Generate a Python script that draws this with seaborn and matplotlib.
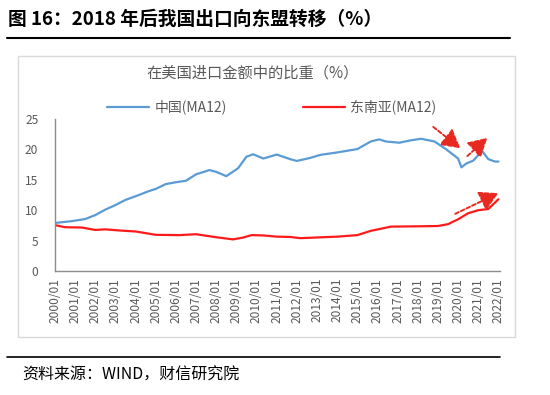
import pandas as pd
import matplotlib.pyplot as plt
import seaborn as sns
from matplotlib.patches import Rectangle
from matplotlib.lines import Line2D

sns.set_theme(style="white")
plt.rcParams['font.family'] = ['Noto Sans CJK SC', 'DejaVu Sans']

# Data (12-month moving average share of US imports, %)
china_dates = ["2000-01", "2000-11", "2001-07", "2002-01", "2002-07", "2003-01", "2003-07",
               "2004-01", "2004-09", "2005-01", "2005-07", "2006-01", "2006-07", "2007-01",
               "2007-09", "2008-01", "2008-07", "2009-02", "2009-07", "2009-11", "2010-05",
               "2011-01", "2011-09", "2012-01", "2012-09", "2013-03", "2014-01", "2015-01",
               "2015-09", "2016-02", "2016-06", "2017-02", "2017-09", "2018-03", "2018-11",
               "2019-06", "2020-01", "2020-03", "2020-06", "2020-10", "2021-02", "2021-03",
               "2021-07", "2021-11", "2022-01"]
china_values = [7.9, 8.2, 8.55, 9.2, 10.1, 10.85, 11.7,
                12.3, 13.15, 13.5, 14.3, 14.6, 14.85, 15.9,
                16.6, 16.3, 15.6, 16.9, 18.8, 19.2, 18.5,
                19.15, 18.4, 18.1, 18.6, 19.1, 19.5, 20.05,
                21.3, 21.65, 21.3, 21.1, 21.5, 21.75, 21.3,
                20.0, 18.5, 17.05, 17.7, 18.15, 19.35, 19.85,
                18.4, 18.0, 18.0]

asean_dates = ["2000-01", "2000-07", "2001-05", "2002-01", "2002-07", "2003-04", "2004-01",
               "2005-01", "2006-03", "2007-01", "2008-01", "2008-11", "2009-05", "2009-10",
               "2010-05", "2011-01", "2011-09", "2012-03", "2014-01", "2015-01", "2015-09",
               "2016-09", "2018-01", "2019-01", "2019-07", "2020-01", "2020-07", "2021-01",
               "2021-07", "2022-01"]
asean_values = [7.55, 7.2, 7.15, 6.75, 6.85, 6.65, 6.5,
                5.95, 5.9, 6.05, 5.55, 5.2, 5.5, 5.9,
                5.85, 5.65, 5.6, 5.4, 5.65, 5.9, 6.6,
                7.3, 7.35, 7.4, 7.7, 8.5, 9.5, 10.0,
                10.2, 11.8]

series_names = ["中国(MA12)", "东南亚(MA12)"]
series_colors = ["#5B9BD5", "#FF1A1A"]
year_labels = [f"{y}/01" for y in range(2000, 2023)]


def to_year(d):
    y, m = d.split("-")
    return int(y) + (int(m) - 1) / 12


df = pd.concat([
    pd.DataFrame({"t": [to_year(d) for d in china_dates], "v": china_values, "s": series_names[0]}),
    pd.DataFrame({"t": [to_year(d) for d in asean_dates], "v": asean_values, "s": series_names[1]}),
])

fig = plt.figure(figsize=(5.5, 3.95), dpi=100)
W, H = 550, 395

ax = fig.add_axes([55 / W, 1 - 271 / H, 445 / W, 152 / H])
sns.lineplot(data=df, x="t", y="v", hue="s", palette=dict(zip(series_names, series_colors)),
             linewidth=1.6, ax=ax, legend=False)

ax.set_xlim(2000, 2022.08)
ax.set_ylim(0, 25)
ax.set_yticks(range(0, 26, 5))
ax.set_xticks(range(2000, 2023))
ax.set_xticklabels(year_labels, rotation=90)
ax.set_xlabel("")
ax.set_ylabel("")
for side in ["top", "right"]:
    ax.spines[side].set_visible(False)
for side in ["left", "bottom"]:
    ax.spines[side].set_color("#8C8C8C")
    ax.spines[side].set_linewidth(1.0)
ax.tick_params(axis="both", direction="in", length=3, width=0.8, color="#8C8C8C",
               labelsize=8.6, labelcolor="#595959")
ax.tick_params(axis="y", pad=12)
ax.tick_params(axis="x", pad=5)

# dashed trend arrows
arrows = [((2018.77, 23.7), (2020.11, 20.2)),
          ((2020.46, 18.9), (2021.45, 21.9)),
          ((2019.86, 9.4), (2021.99, 12.8))]
for start, end in arrows:
    ax.annotate("", xy=end, xytext=start,
                arrowprops=dict(arrowstyle="-|>,head_length=0.8,head_width=0.45",
                                color="#E8291F", lw=1.4, ls=(0, (2, 1.2)),
                                mutation_scale=14, shrinkA=0, shrinkB=0))

# chart frame
fig.patches.append(Rectangle((18 / W, 1 - 337 / H), 497 / W, 281 / H, transform=fig.transFigure,
                             fill=False, edgecolor="#D9D9D9", linewidth=1.0))

fig.text(253 / W, 1 - 73 / H, "在美国进口金额中的比重（%）", ha="center", va="center",
         fontsize=11, color="#595959")

handles = [Line2D([], [], color=c, lw=1.6) for c in series_colors]
fig.legend(handles, series_names, loc="center", bbox_to_anchor=(272 / W, 1 - 107 / H),
           ncol=2, frameon=False, fontsize=10, handlelength=3.0, columnspacing=5.5,
           handletextpad=0.4, labelcolor="#595959")

# page title and source
fig.text(8 / W, 1 - 19 / H, "图 16：2018 年后我国出口向东盟转移（%）", ha="left", va="center",
         fontsize=13.5, fontweight="bold", color="black")
fig.add_artist(Line2D([7 / W, 510 / W], [1 - 38 / H, 1 - 38 / H], color="black", lw=1.5,
                      transform=fig.transFigure))
fig.add_artist(Line2D([7 / W, 500 / W], [1 - 357 / H, 1 - 357 / H], color="black", lw=1.2,
                      transform=fig.transFigure))
fig.text(22 / W, 1 - 375 / H, "资料来源：WIND，财信研究院", ha="left", va="center",
         fontsize=11.5, style="italic", color="black")

fig.savefig("out.png", dpi=100)
